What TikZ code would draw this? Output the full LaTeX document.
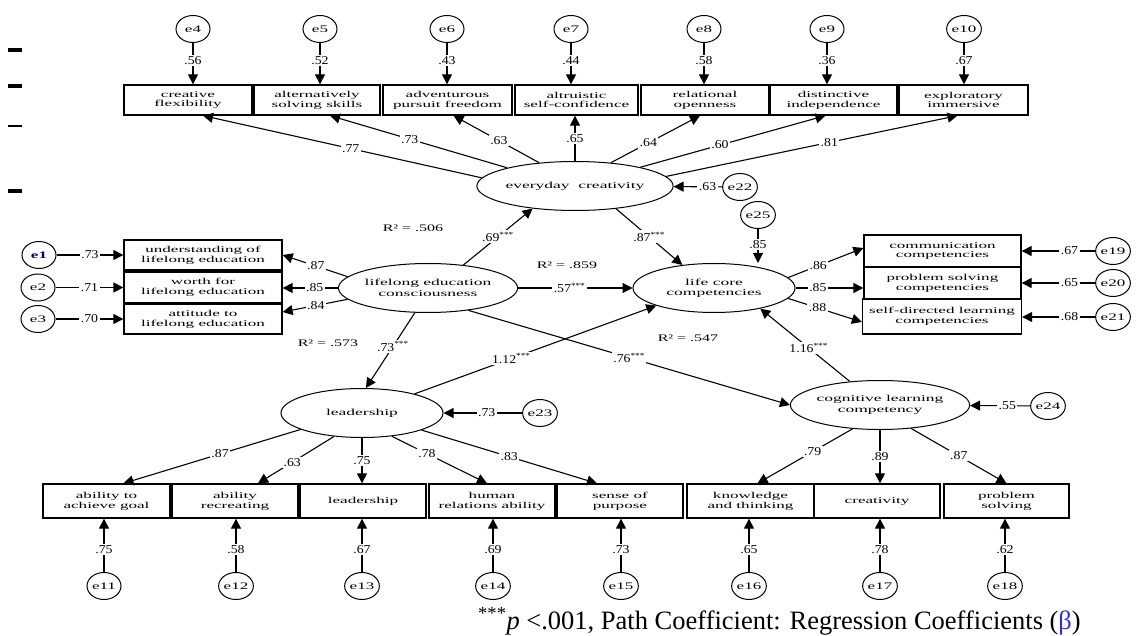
\documentclass[tikz,border=0pt]{standalone}
\usepackage{fontspec}
\setmainfont{Liberation Serif}
\newfontfamily\bxf[FakeStretch=1.9]{Liberation Serif}
\newfontfamily\erf[FakeStretch=1.7]{Liberation Serif}
\newfontfamily\lbf[FakeStretch=1.6]{Liberation Serif}
\newfontfamily\nbf[FakeStretch=1.15]{Liberation Serif}
\usetikzlibrary{shapes.geometric,arrows.meta}
\begin{document}
\begin{tikzpicture}[x=1pt,y=-1pt,
  box/.style={draw, line width=1.3pt, rectangle, inner sep=0pt, align=center, minimum height=30pt, font=\bxf\fontsize{9}{9.8}\selectfont},
  lat/.style={draw, line width=1pt, ellipse, inner sep=0pt, minimum width=162pt, minimum height=49pt, align=center, font=\bxf\fontsize{9.2}{10.5}\selectfont},
  err/.style={draw, line width=1pt, ellipse, inner sep=0pt, minimum width=34pt, minimum height=27pt, font=\erf\fontsize{10}{10}\selectfont},
  arr/.style={line width=1.1pt, -{Triangle[length=10pt,width=10pt]}},
  lbl/.style={fill=white, inner sep=1.5pt, font=\nbf\fontsize{12}{13}\selectfont},
  rsq/.style={inner sep=0pt, font=\lbf\fontsize{10}{12}\selectfont},
]
\useasboundingbox (0,0) rectangle (1136,636);
% margin marks
\draw[line width=3.5pt] (8,50) -- (22,50);
\draw[line width=3.5pt] (8,86) -- (22,86);
\draw[line width=1.5pt] (8,126) -- (22,126);
\draw[line width=3.5pt] (8,191) -- (22,191);

% latent variables
\node[lat] (ec) at (575,186) {everyday\ \ creativity};
\node[lat] (lcc) at (714,288) {life core\\competencies};
\node[lat] (lec) at (428,288) {lifelong education\\consciousness};
\node[lat] (lc) at (362,413) {leadership};
\node[lat] (cgc) at (880,405) {cognitive learning\\competency};

% top boxes
\node[box, minimum width=128pt] (t1) at (188,100) {creative\\flexibility};
\node[box, minimum width=126pt] (t2) at (317,100) {alternatively\\solving skills};
\node[box, minimum width=129pt] (t3) at (447.5,100) {adventurous\\pursuit freedom};
\node[box, minimum width=123pt] (t4) at (576.5,100) {altruistic\\self-confidence};
\node[box, minimum width=128pt] (t5) at (705,100) {relational\\openness};
\node[box, minimum width=127pt] (t6) at (833.5,100) {distinctive\\independence};
\node[box, minimum width=129pt] (t7) at (963.5,100) {exploratory\\immersive};

% top errors
\node[err] (e4) at (193,29) {e4};
\node[err] (e5) at (320,29) {e5};
\node[err] (e6) at (447,29) {e6};
\node[err] (e7) at (571,29) {e7};
\node[err] (e8) at (704,29) {e8};
\node[err] (e9) at (827,29) {e9};
\node[err] (e10) at (964,29) {e10};
\draw[arr] (e4) -- node[lbl,pos=0.42]{.56} (e4 |- t1.north);
\draw[arr] (e5) -- node[lbl,pos=0.42]{.52} (e5 |- t2.north);
\draw[arr] (e6) -- node[lbl,pos=0.42]{.43} (e6 |- t3.north);
\draw[arr] (e7) -- node[lbl,pos=0.42]{.44} (e7 |- t4.north);
\draw[arr] (e8) -- node[lbl,pos=0.42]{.58} (e8 |- t5.north);
\draw[arr] (e9) -- node[lbl,pos=0.42]{.36} (e9 |- t6.north);
\draw[arr] (e10) -- node[lbl,pos=0.42]{.67} (e10 |- t7.north);

% top loadings
\draw[arr] (ec.175) -- node[lbl,pos=0.47]{.77} ([xshift=15pt]t1.south);
\draw[arr] (ec.165) -- node[lbl,pos=0.55]{.73} ([xshift=13pt]t2.south);
\draw[arr] (ec.147) -- node[lbl,pos=0.47]{.63} ([xshift=6pt]t3.south);
\draw[arr] (ec.north) -- node[lbl,pos=0.5]{.65} (ec.north |- t4.south);
\draw[arr] (ec.33) -- node[lbl,pos=0.42]{.64} ([xshift=-5pt]t5.south);
\draw[arr] (ec.16) -- node[lbl,pos=0.43]{.60} ([xshift=-8pt]t6.south);
\draw[arr] (ec.6) -- node[lbl,pos=0.56]{.81} ([xshift=-6pt]t7.south);

% e22, e25
\node[err] (e22) at (740,187) {e22};
\node[err] (e25) at (758,215) {e25};
\draw[arr] (e22) -- node[lbl,pos=0.3]{.63} (ec);
\draw[arr] (e25) -- node[lbl,pos=0.45]{.85} (e25 |- lcc.north);

% left boxes
\node[box, minimum width=158pt] (u) at (203,255) {understanding of\\lifelong education};
\node[box, minimum width=158pt, minimum height=31pt] (w) at (203,287.5) {worth for\\lifelong education};
\node[box, minimum width=158pt] (a) at (203,319) {attitude to\\lifelong education};
\node[err, text=blue!50!black, font=\erf\bfseries\fontsize{10}{10}\selectfont] (e1) at (39,255) {e1};
\node[err] (e2) at (38,287.5) {e2};
\node[err] (e3) at (38,319) {e3};
\draw[arr] (e1) -- node[lbl,pos=0.5]{.73} (e1 -| u.west);
\draw[arr] (e2) -- node[lbl,pos=0.5]{.71} (e2 -| w.west);
\draw[arr] (e3) -- node[lbl,pos=0.5]{.70} (e3 -| a.west);
\draw[arr] (lec.172) -- node[lbl,pos=0.49]{.87} (u.east);
\draw[arr] (lec.west) -- node[lbl,pos=0.42]{.85} (lec.west -| w.east);
\draw[arr] (lec.188) -- node[lbl,pos=0.49]{.84} ([yshift=7pt]a.east);

% right boxes
\node[box, minimum width=157pt, minimum height=32pt] (c) at (942.5,251) {communication\\competencies};
\node[box, minimum width=157pt, minimum height=32pt] (p) at (942.5,283) {problem solving\\competencies};
\node[box, minimum width=159pt, minimum height=35pt] (s) at (942,316.5) {self-directed learning\\competencies};
\node[err] (e19) at (1113,251) {e19};
\node[err] (e20) at (1113,283) {e20};
\node[err] (e21) at (1113,317) {e21};
\draw[arr] (e19) -- node[lbl,pos=0.35]{.67} (e19 -| c.east);
\draw[arr] (e20) -- node[lbl,pos=0.35]{.65} (e20 -| p.east);
\draw[arr] (e21) -- node[lbl,pos=0.35]{.68} (e21 -| s.east);
\draw[arr] (lcc.8) -- node[lbl,pos=0.4]{.86} ([yshift=3pt]c.west);
\draw[arr] (lcc.east) -- node[lbl,pos=0.33]{.85} (lcc.east -| p.west);
\draw[arr] (lcc.352) -- node[lbl,pos=0.4]{.88} ([yshift=-5.5pt]s.west);

% structural paths
\draw[arr] (lec.33) -- node[lbl,pos=0.5]{.69\textsuperscript{***}} (ec.208);
\draw[arr] (ec.331) -- node[lbl,pos=0.5]{.87\textsuperscript{***}} (lcc.144);
\draw[arr] (lec.east) -- node[lbl,pos=0.45]{.57\textsuperscript{***}} (lcc.west);
\draw[arr] (lec.242) -- node[lbl,pos=0.45]{.73\textsuperscript{***}} (lc.81);
\draw[arr] (lc.20) -- node[lbl,pos=0.4]{1.12\textsuperscript{***}} (lcc.197);
\draw[arr] (lec.331) -- node[lbl,pos=0.5]{.76\textsuperscript{***}} (cgc.west);
\draw[arr] (cgc.142) -- node[lbl,pos=0.46]{1.16\textsuperscript{***}} (lcc.336);

% R squared
\node[rsq] (r1) at (413,228) {R² = .506};
\node[rsq] (r2) at (567,265) {R² = .859};
\node[rsq] (r3) at (328,343) {R² = .573};
\node[rsq] (r4) at (688,338) {R² = .547};

% e23, e24
\node[err] (e23) at (540,413) {e23};
\node[err] (e24) at (1048,406) {e24};
\draw[arr] (e23) -- node[lbl,pos=0.45]{.73} (lc);
\draw[arr] (e24) -- node[lbl,pos=0.38]{.55} (cgc);

% bottom boxes
\node[box, minimum width=127pt, minimum height=34pt] (b1) at (106.5,501) {ability to\\achieve goal};
\node[box, minimum width=126pt, minimum height=34pt] (b2) at (235,501) {ability\\recreating};
\node[box, minimum width=126pt, minimum height=34pt] (b3) at (363,501) {leadership};
\node[box, minimum width=126pt, minimum height=34pt] (b4) at (492,501) {human\\relations ability};
\node[box, minimum width=126pt, minimum height=34pt] (b5) at (620,501) {sense of\\purpose};
\node[box, minimum width=127pt, minimum height=34pt] (k) at (750.5,501) {knowledge\\and thinking};
\node[box, minimum width=126pt, minimum height=34pt] (cr) at (877,501) {creativity};
\node[box, minimum width=125pt, minimum height=34pt] (ps) at (1006.5,501) {problem\\solving};

\draw[arr] (lc.195) -- node[lbl,pos=0.455]{.87} ([xshift=17pt]b1.north);
\draw[arr] (lc.220) -- node[lbl,pos=0.55]{.63} ([xshift=23pt]b2.north);
\draw[arr] (lc.south) -- node[lbl,pos=0.5]{.75} (lc.south |- b3.north);
\draw[arr] (lc.322) -- node[lbl,pos=0.37]{.78} ([xshift=-5pt]b4.north);
\draw[arr] (lc.344) -- node[lbl,pos=0.5]{.83} ([xshift=-23pt]b5.north);
\draw[arr] (cgc.221) -- node[lbl,pos=0.42]{.79} ([xshift=7pt]k.north);
\draw[arr] (cgc.south) -- node[lbl,pos=0.5]{.89} (cgc.south |- cr.north);
\draw[arr] (cgc.323) -- node[lbl,pos=0.5]{.87} (ps.north);

% bottom errors
\node[err] (e11) at (104,586) {e11};
\node[err] (e12) at (236,586) {e12};
\node[err] (e13) at (362,586) {e13};
\node[err] (e14) at (493,586) {e14};
\node[err] (e15) at (621,586) {e15};
\node[err] (e16) at (749,586) {e16};
\node[err] (e17) at (880,586) {e17};
\node[err] (e18) at (1005,586) {e18};
\draw[arr] (e11) -- node[lbl,pos=0.42]{.75} (e11 |- b1.south);
\draw[arr] (e12) -- node[lbl,pos=0.42]{.58} (e12 |- b2.south);
\draw[arr] (e13) -- node[lbl,pos=0.42]{.67} (e13 |- b3.south);
\draw[arr] (e14) -- node[lbl,pos=0.42]{.69} (e14 |- b4.south);
\draw[arr] (e15) -- node[lbl,pos=0.42]{.73} (e15 |- b5.south);
\draw[arr] (e16) -- node[lbl,pos=0.42]{.65} (e16 |- k.south);
\draw[arr] (e17) -- node[lbl,pos=0.42]{.78} (e17 |- cr.south);
\draw[arr] (e18) -- node[lbl,pos=0.42]{.62} (e18 |- ps.south);

% caption
\node[anchor=base west, inner sep=0pt, font=\fontsize{26.5}{28}\selectfont] (cap) at (478,629)
  {\textsuperscript{***}\textit{p} <.001, Path Coefficient: Regression Coefficients ({\color{blue!60!gray}β})};
\end{tikzpicture}
\end{document}
